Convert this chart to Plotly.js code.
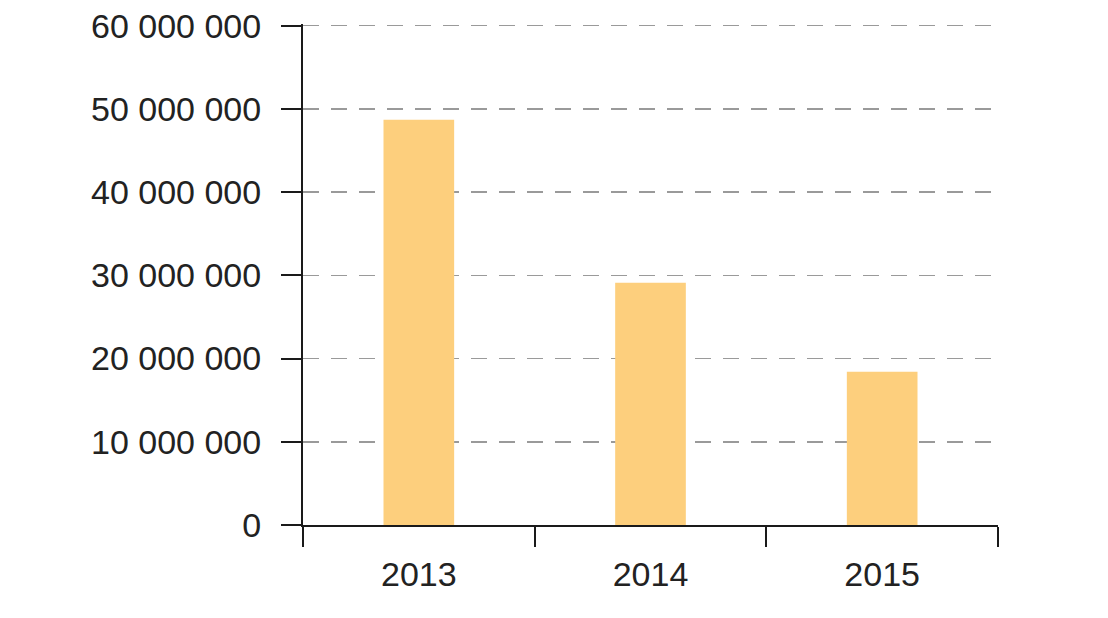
<!DOCTYPE html>
<html>
<head>
<meta charset="utf-8">
<script src="https://cdn.plot.ly/plotly-3.0.1.min.js"></script>
<style>html,body{margin:0;padding:0;background:#fff;}#chart{width:1108px;height:618px;}</style>
</head>
<body>
<div id="chart"></div>
<script>
const years = ["2013", "2014", "2015"];
const values = [48700000, 29100000, 18400000];
const yTicks = [0, 10000000, 20000000, 30000000, 40000000, 50000000, 60000000];

const trace = {
  type: "bar",
  x: years,
  y: values,
  marker: {color: "#fdcf7d", line: {width: 0}},
  hoverinfo: "skip"
};

const layout = {
  width: 1108,
  height: 618,
  margin: {l: 303, r: 110, t: 24, b: 93},
  paper_bgcolor: "#ffffff",
  plot_bgcolor: "#ffffff",
  separators: ". ",
  bargap: 0.695,
  showlegend: false,
  font: {family: "Liberation Sans, Arial, Helvetica, sans-serif", size: 34, color: "#222222"},
  xaxis: {
    type: "category",
    showline: true,
    linecolor: "#1a1a1a",
    linewidth: 2,
    ticks: "outside",
    tickson: "boundaries",
    ticklen: 20,
    tickwidth: 2,
    tickcolor: "#1a1a1a",
    showgrid: false,
    zeroline: false,
    ticklabelstandoff: 18,
    tickfont: {size: 34, color: "#222222"}
  },
  yaxis: {
    range: [0, 60200000],
    tickvals: yTicks,
    tickformat: ",d",
    showline: true,
    linecolor: "#1a1a1a",
    linewidth: 2,
    ticks: "outside",
    ticklen: 20,
    tickwidth: 2,
    tickcolor: "#1a1a1a",
    showgrid: true,
    gridcolor: "#9a9a9a",
    gridwidth: 1.5,
    griddash: "16px,12px",
    zeroline: false,
    ticklabelstandoff: 13,
    tickfont: {size: 34, color: "#222222"}
  }
};

Plotly.newPlot("chart", [trace], layout, {displayModeBar: false, staticPlot: true});
</script>
</body>
</html>
